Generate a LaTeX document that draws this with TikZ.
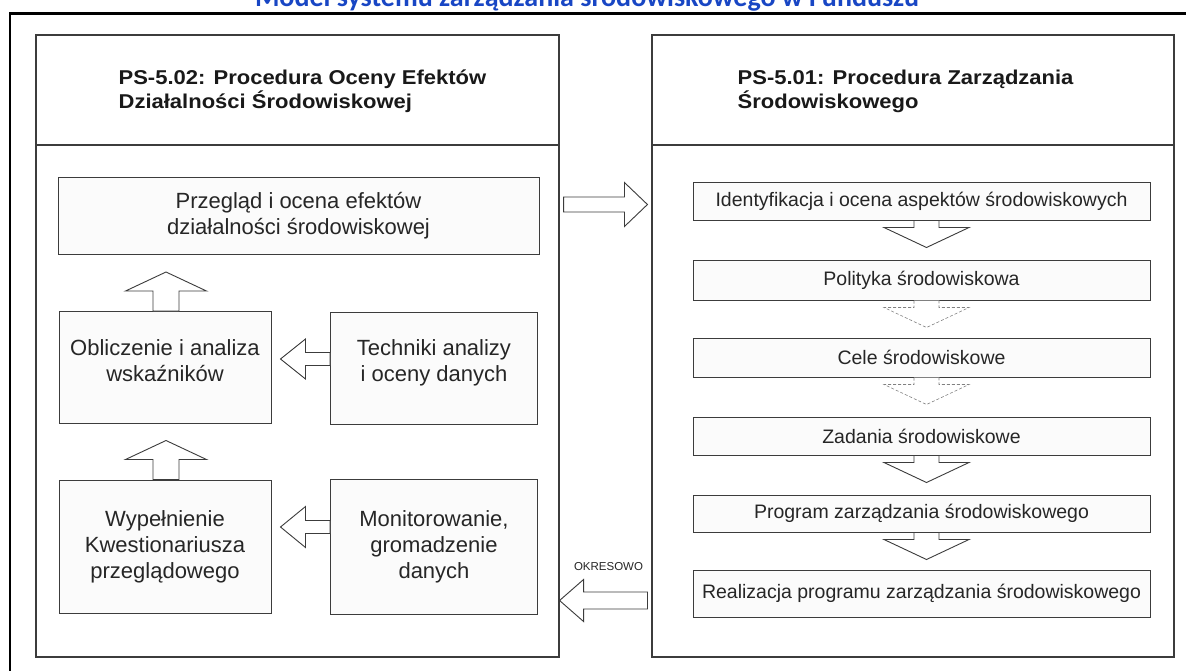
\documentclass[tikz,border=0pt]{standalone}
\usepackage{fontspec}
\setmainfont{Liberation Sans}
\newfontfamily\titlefont{Carlito}
\usetikzlibrary{calc}
\definecolor{titleblue}{RGB}{24,70,196}
\definecolor{edge}{RGB}{60,60,60}
\definecolor{boxfill}{RGB}{251,251,251}
\tikzset{
 panel/.style={draw=edge, line width=1.1pt, fill=white, inner sep=0pt},
 box/.style={draw=edge, line width=1pt, fill=boxfill, inner sep=0pt, align=center, text=black!85},
 lbox/.style={box, font=\fontsize{22}{26}\selectfont},
 rbox/.style={box, font=\fontsize{19.5}{23}\selectfont},
 htext/.style={inner sep=0pt, font=\bfseries\fontsize{20}{23}\selectfont, text=black!90},
 barrow/.style={draw=edge, fill=white, line width=0.9pt, line join=miter},
 faint/.style={densely dashed, draw=gray, line width=0.6pt},
}
\newcommand\blockarr[6][]{%
 \path let \p1=(#2), \p2=(#3) in
   \pgfextra{\xdef\baX{\x1}\xdef\baY{\y1}%
     \pgfmathsetmacro\baAt{atan2(\y2-\y1,\x2-\x1)}\xdef\baA{\baAt}%
     \pgfmathsetmacro\baLt{veclen(\x2-\x1,\y2-\y1)}\xdef\baL{\baLt}};
 \begin{scope}[shift={(\baX,\baY)}, rotate=\baA]
  \draw[barrow,#1] (0pt,-#4) -- (\baL pt-#6,-#4) -- (\baL pt-#6,-#5) -- (\baL pt,0pt) -- (\baL pt-#6,#5) -- (\baL pt-#6,#4) -- (0pt,#4) -- cycle;
 \end{scope}}
\begin{document}
\begin{tikzpicture}[x=1pt, y=-1pt]
\useasboundingbox (0,0) rectangle (1186,670);
\clip (0,0) rectangle (1186,670);
\fill[white] (0,0) rectangle (1186,670);
% title (cut at the top, as in the source) and outer frame
\node[font=\titlefont\bfseries\fontsize{28}{30}\selectfont, text=titleblue, anchor=base, inner sep=0pt] (title) at (587,6.5) {Model systemu zarządzania środowiskowego w Funduszu};
\draw[line width=2.2pt, black] (10,720) -- (10,13.5) -- (1220,13.5);
% panels
\node[panel, minimum width=523pt, minimum height=110pt] (Lh) at (297.5,90) {};
\node[panel, minimum width=523pt, minimum height=512pt] (Lb) at (297.5,401) {};
\node[panel, minimum width=522pt, minimum height=110pt] (Rh) at (913,90) {};
\node[panel, minimum width=522pt, minimum height=512pt] (Rb) at (913,401) {};
\node[htext, anchor=west] (LhT) at ($(Lh.west)+(83,2)$) {\scalebox{1.1}[1]{\begin{tabular}{@{}l@{}}PS-5.02: Procedura Oceny Efektów\\Działalności Środowiskowej\end{tabular}}};
\node[htext, anchor=west] (RhT) at ($(Rh.west)+(86,2)$) {\scalebox{1.1}[1]{\begin{tabular}{@{}l@{}}PS-5.01: Procedura Zarządzania\\Środowiskowego\end{tabular}}};
% left panel boxes
\node[lbox, minimum width=481pt, minimum height=77pt] (prz) at (298.5,216) {Przegląd i ocena efektów\\działalności środowiskowej};
\node[lbox, minimum width=212pt, minimum height=112pt] (obl) at (165,367.5) {Obliczenie i analiza\\wskaźników\\[-12pt]\mbox{}};
\node[lbox, minimum width=207pt, minimum height=112pt] (tec) at (434,368) {Techniki analizy\\i oceny danych\\[-12pt]\mbox{}};
\node[lbox, minimum width=212pt, minimum height=133pt] (wyp) at (165,546.5) {Wypełnienie\\Kwestionariusza\\przeglądowego};
\node[lbox, minimum width=207pt, minimum height=135pt] (mon) at (434,546.5) {Monitorowanie,\\gromadzenie\\danych};
% right panel boxes
\node[rbox, minimum width=457pt, minimum height=38pt] (idn) at (921.5,201) {Identyfikacja i ocena aspektów środowiskowych};
\node[rbox, minimum width=457pt, minimum height=40pt] (pol) at (921.5,280) {Polityka środowiskowa};
\node[rbox, minimum width=457pt, minimum height=39pt] (cel) at (921.5,357.5) {Cele środowiskowe};
\node[rbox, minimum width=457pt, minimum height=38pt] (zad) at (921.5,436) {Zadania środowiskowe};
\node[rbox, minimum width=457pt, minimum height=37pt] (prg) at (921.5,513.5) {Program zarządzania środowiskowego};
\node[rbox, minimum width=457pt, minimum height=47pt] (rea) at (921.5,593.5) {Realizacja programu zarządzania środowiskowego};
% left panel arrows
\blockarr{$(obl.north)+(1,0)$}{$(obl.north)+(1,-39)$}{13pt}{40.5pt}{19pt}
\blockarr{$(wyp.north)+(1,0)$}{$(wyp.north)+(1,-39)$}{13pt}{40.5pt}{19pt}
\blockarr{$(tec.west)+(0,-9)$}{$(obl.east)+(9,-8.5)$}{6.5pt}{20pt}{25pt}
\blockarr{$(mon.west)+(0,-19.5)$}{$(wyp.east)+(9,-19.5)$}{6.5pt}{20.5pt}{25pt}
% right panel arrows
\blockarr{$(idn.south)+(5,0)$}{$(idn.south)+(5,27)$}{12.5pt}{42.5pt}{20pt}
\blockarr[faint]{$(pol.south)+(5,0)$}{$(pol.south)+(5,27)$}{12.5pt}{42.5pt}{20pt}
\blockarr[faint]{$(cel.south)+(5,0)$}{$(cel.south)+(5,27)$}{12.5pt}{42.5pt}{20pt}
\blockarr{$(zad.south)+(5,0)$}{$(zad.south)+(5,27)$}{12.5pt}{42.5pt}{20pt}
\blockarr{$(prg.south)+(5,0)$}{$(prg.south)+(5,27)$}{12.5pt}{42.5pt}{20pt}
% between panels
\coordinate (rs) at ($(Lb.east |- idn.center)+(4,3.5)$);
\coordinate (rt) at ($(Rb.west |- idn.center)+(-4,3.5)$);
\blockarr{rs}{rt}{7.5pt}{22pt}{23pt}
\coordinate (os) at ($(Rb.west |- rea.center)+(-4,7)$);
\coordinate (ot) at ($(Lb.east |- rea.center)+(0,7)$);
\blockarr{os}{ot}{8.5pt}{21pt}{24pt}
\node[font=\fontsize{11.5}{12}\selectfont, inner sep=0pt, text=black!85] (okr) at ($(os)!0.5!(ot)+(5,-34)$) {OKRESOWO};
\end{tikzpicture}
\end{document}
